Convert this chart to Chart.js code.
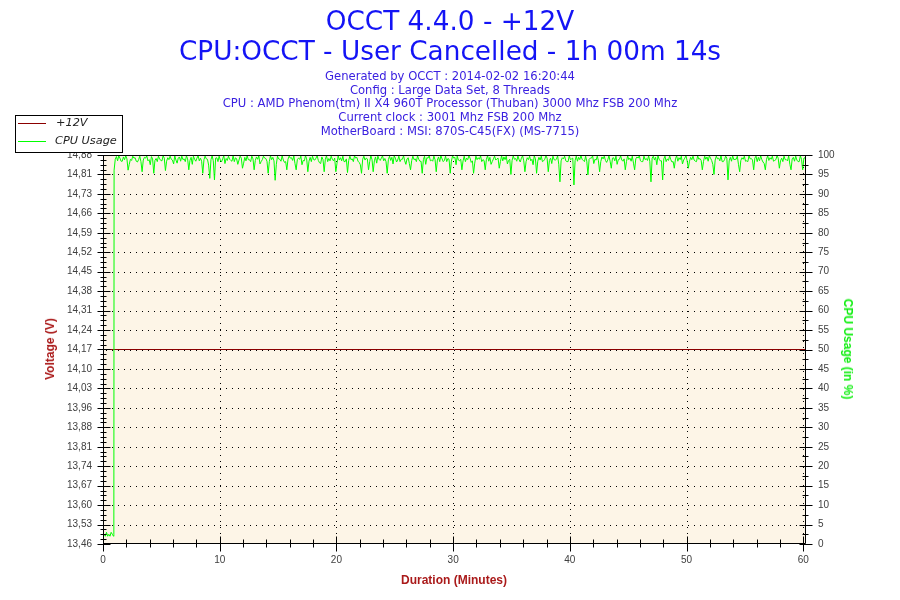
<!DOCTYPE html>
<html><head><meta charset="utf-8">
<script src="https://cdn.jsdelivr.net/npm/chart.js@4.4.1/dist/chart.umd.min.js"></script>
<style>
html,body{margin:0;padding:0;background:#fff;}
#wrap{position:relative;width:900px;height:600px;overflow:hidden;font-family:"DejaVu Sans",Verdana,sans-serif;}
canvas{position:absolute;left:0;top:0;}
.abs{position:absolute;white-space:nowrap;}
</style></head><body>
<div id="wrap">
<canvas id="c" width="900" height="600"></canvas>
<div class="abs" style="left:0;width:900px;top:6px;text-align:center;font-size:26.3px;line-height:30px;color:#1414f5">OCCT 4.4.0 - +12V<br>CPU:OCCT - User Cancelled - 1h 00m 14s</div>
<div class="abs" style="left:0;width:900px;top:69.8px;text-align:center;font-size:11.6px;line-height:13.85px;color:#3a20e0">Generated by OCCT : 2014-02-02 16:20:44<br>Config : Large Data Set, 8 Threads<br>CPU : AMD Phenom(tm) II X4 960T Processor (Thuban) 3000 Mhz FSB 200 Mhz<br>Current clock : 3001 Mhz FSB 200 Mhz<br>MotherBoard : MSI: 870S-C45(FX) (MS-7715)</div>
<div class="abs" style="left:50px;top:349px;transform:translate(-50%,-50%) rotate(-90deg);font-family:'Liberation Sans',Arial,sans-serif;font-weight:bold;font-size:12px;color:#aa1a1a">Voltage (V)</div>
<div class="abs" style="left:848px;top:349px;transform:translate(-50%,-50%) rotate(90deg);font-family:'Liberation Sans',Arial,sans-serif;font-weight:bold;font-size:12px;color:#11ee11">CPU Usage (in %)</div>
<div class="abs" style="left:454px;top:580px;transform:translate(-50%,-50%);font-family:'Liberation Sans',Arial,sans-serif;font-weight:bold;font-size:12px;color:#aa1a1a">Duration (Minutes)</div>
<div class="abs" style="left:15px;top:115px;width:108px;height:38px;box-sizing:border-box;border:1px solid #000;background:#fff;font-style:italic;font-size:11.3px;color:#222">
  <div style="position:absolute;left:2px;top:7px;width:28px;height:1px;background:#8b0000"></div>
  <div style="position:absolute;left:40px;top:0px;line-height:14px">+12V</div>
  <div style="position:absolute;left:2px;top:25px;width:28px;height:1px;background:#00ff00"></div>
  <div style="position:absolute;left:39px;top:18px;line-height:14px">CPU Usage</div>
</div>
</div>
<script>
// ---- data ----
const DURATION = 60.233; // 1h 00m 14s in minutes
const xTicks = [0, 10, 20, 30, 40, 50, 60];
const voltLabels = ['13,46','13,53','13,60','13,67','13,74','13,81','13,88','13,96','14,03','14,10','14,17','14,24','14,31','14,38','14,45','14,52','14,59','14,66','14,73','14,81','14,88'];
const VMIN = 13.46, VMAX = 14.88;
const cpuTicks = [0,5,10,15,20,25,30,35,40,45,50,55,60,65,70,75,80,85,90,95,100];

const voltMinutes = [0, 60.233];
const voltValues = [14.17, 14.17];

const cpuIdleMinutes = [0, 0.02, 0.1, 0.2, 0.3, 0.4, 0.5, 0.6, 0.7, 0.8, 0.9, 0.93];
const cpuIdleValues  = [10, 2, 2.5, 2, 3, 2, 2.5, 2, 3, 2.5, 2, 2.5];
const LOAD_START = 0.95, SAMPLE_STEP = 0.2;
// samples at LOAD_START + i*SAMPLE_STEP
const cpuLoadValues = [
96.1,99.6,99.8,98.4,99.5,99.8,96.1,98.9,99.7,99.3,
98.2,99.7,95.7,99.4,99.8,98.8,99.6,95.3,99.1,99.7,
98.6,99.8,96.0,99.3,99.7,98.7,99.8,97.9,99.5,99.7,
99.0,99.8,96.2,99.4,99.7,98.4,99.8,99.2,95.3,99.7,
98.9,94.0,99.8,93.6,99.3,99.7,98.2,99.8,99.1,99.7,
98.6,99.8,99.3,97.6,99.7,96.6,99.4,99.8,98.8,99.7,
96.2,99.5,99.8,98.3,99.7,99.1,95.3,99.8,99.4,93.5,
99.7,98.9,99.8,98.1,96.2,99.7,99.3,99.8,96.2,99.2,
99.7,98.6,99.8,95.7,99.4,99.7,98.7,99.8,98.0,99.5,
95.7,99.8,99.1,99.7,98.5,95.7,99.8,99.3,99.7,98.3,
95.5,99.7,99.0,99.8,99.4,98.1,95.3,99.7,99.2,96.2,
99.8,95.7,99.5,99.7,98.6,99.8,99.1,95.3,99.7,99.4,
99.8,98.2,99.7,98.9,99.8,97.6,99.3,96.2,99.7,99.0,
99.8,98.4,95.3,99.7,99.3,99.8,98.7,99.7,95.7,99.5,
99.8,98.3,99.7,99.1,95.3,99.8,99.4,99.7,98.5,96.2,
99.7,99.2,99.8,98.1,95.3,99.7,99.3,99.8,98.8,96.2,
99.8,99.4,98.3,99.7,99.0,96.6,99.8,99.5,99.7,98.6,
95.0,99.8,99.1,99.7,98.2,99.8,95.7,99.3,99.7,98.9,
99.8,95.3,99.4,99.7,98.5,99.8,95.7,99.2,99.7,98.7,
99.8,93.1,99.3,99.7,98.3,99.8,99.0,92.3,99.7,99.4,
99.8,98.6,99.7,94.9,99.2,99.8,98.9,99.7,95.7,99.5,
99.7,98.1,99.8,96.6,99.3,99.7,98.8,99.8,98.4,96.2,
99.8,99.2,99.7,96.2,99.5,99.8,98.3,99.7,99.1,99.8,
93.1,99.7,99.4,99.8,98.5,93.6,99.7,99.0,99.8,98.2,
96.6,99.8,99.3,99.7,98.7,99.8,96.6,99.4,99.7,98.4,
99.8,99.1,96.2,99.7,99.5,99.8,98.6,95.0,99.7,99.2,
99.8,98.3,99.7,93.6,99.4,99.8,98.9,99.7,95.7,99.3,
99.7,98.5,99.8,99.1,96.2,99.7,99.4,99.8,98.2,96.2,
99.8,99.3,99.7,98.6,99.8,96.6,99.2,99.7,98.8,99.8,
96.2,99.4,99.7,98.3,99.8,96.2,99.3
];
// samples half a step later (LOAD_START + i*SAMPLE_STEP + SAMPLE_STEP/2)
const cpuLoadMidValues = [
98.9,98.5,99.2,98.4,98.8,99.0,97.6,98.6,99.2,98.4,
98.8,98.3,98.7,99.2,98.5,97.5,99.0,98.6,98.3,99.0,
98.5,99.2,98.4,98.8,98.9,97.7,98.7,99.2,98.4,98.8,
98.3,99.0,98.6,97.6,98.9,99.2,98.5,98.4,98.8,99.0,
97.4,98.8,98.5,99.2,98.3,98.7,99.0,97.8,98.6,98.9,
98.4,98.3,99.0,98.7,99.2,97.9,98.5,98.8,98.3,99.0,
98.6,98.9,97.7,98.8,99.2,98.4,98.3,98.8,98.5,97.6,
99.0,98.4,98.7,98.3,98.9,99.2,98.6,97.8,98.8,98.9,
97.5,98.5,99.0,98.4,98.3,98.8,99.2,98.6,97.8,98.8,
98.9,98.3,98.5,98.9,99.2,97.9,98.7,98.5,98.3,99.0,
98.6,98.8,98.3,99.2,98.4,97.5,98.9,98.7,99.0,98.3,
98.8,98.5,97.9,98.9,99.2,98.5,98.3,98.8,98.6,97.7,
99.2,98.7,98.3,98.9,98.5,99.0,97.8,98.6,98.8,98.3,
98.9,98.4,98.8,97.6,99.2,98.5,98.4,98.8,98.7,98.3,
99.0,98.6,98.3,98.9,98.4,99.2,97.5,98.7,98.9,98.5,
98.3,98.8,99.2,98.5,97.9,98.8,98.9,98.3,98.6,98.9,
98.4,97.6,99.0,98.7,99.2,98.3,98.5,98.8,97.7,98.9,
98.6,98.9,98.4,98.8,99.2,98.5,98.3,98.8,98.5,97.5,
99.0,98.4,98.7,98.3,98.9,99.2,98.6,97.8,98.8,98.9,
97.6,98.5,99.0,98.5,98.3,98.8,99.2,98.6,98.4,98.8,
98.9,98.3,98.4,98.9,99.2,97.8,98.7,98.5,98.3,99.0,
98.6,98.8,98.4,99.2,98.5,97.6,98.9,98.7,99.0,98.3,
98.8,98.4,97.9,99.0,99.2,98.5,98.3,98.8,98.6,98.4,
99.2,98.7,97.5,98.9,98.5,99.0,98.3,98.6,98.8,98.3,
99.0,98.4,98.8,97.7,99.2,98.5,98.4,98.8,98.7,98.3,
98.9,98.6,98.3,98.9,98.4,99.2,97.6,98.7,99.0,98.5,
98.3,98.8,99.2,98.5,98.4,98.8,98.9,97.5,98.6,98.9,
98.4,98.3,99.0,98.7,99.2,98.3,98.5,98.8,97.8,98.9,
98.6,98.9,98.4,98.8,99.2,98.5,98.3,98.8,98.5,97.6,
99.0,98.4,98.7,98.3,98.9,99.2,98.6
];

// ---- build datasets from arrays ----
const cpuPoints = cpuIdleMinutes.map((m, i) => ({x: m, y: cpuIdleValues[i]}));
cpuLoadValues.forEach((v, i) => {
  const t = LOAD_START + i * SAMPLE_STEP;
  cpuPoints.push({x: t, y: v});
  cpuPoints.push({x: t + SAMPLE_STEP / 2, y: cpuLoadMidValues[i]});
});
const voltPoints = voltMinutes.map((m, i) => ({x: m, y: voltValues[i]}));

const TICK_FONT = {family: "'Liberation Sans', Arial, sans-serif", size: 10};
const TICK_COLOR = '#404040';

const frame = {
  id: 'frame',
  beforeDraw(chart) {
    const {ctx, chartArea: a} = chart;
    ctx.save();
    ctx.fillStyle = '#fdf5e7';
    ctx.fillRect(a.left, a.top, a.right - a.left, a.bottom - a.top);
    ctx.restore();
  },
  beforeDatasetsDraw(chart) {
    const {ctx, chartArea: a, scales} = chart;
    ctx.save();
    ctx.strokeStyle = '#000';
    ctx.lineWidth = 1;
    ctx.setLineDash([1, 5]);
    ctx.beginPath();
    xTicks.forEach(v => {
      if (v === 0) return;
      const x = Math.round(scales.x.getPixelForValue(v)) + 0.5;
      ctx.moveTo(x, a.top); ctx.lineTo(x, a.bottom);
    });
    cpuTicks.forEach(v => {
      if (v === 0 || v === 100) return;
      const y = Math.round(scales.y1.getPixelForValue(v)) + 0.5;
      ctx.moveTo(a.left + 3, y); ctx.lineTo(a.right, y);
    });
    ctx.stroke();
    ctx.restore();
  },
  afterDatasetsDraw(chart) {
    const {ctx, chartArea: a, scales} = chart;
    const L = Math.round(a.left) + 0.5, R = Math.round(a.right) - 0.5;
    const T = Math.round(a.top) + 0.5, B = Math.round(a.bottom) - 0.5;
    ctx.save();
    ctx.strokeStyle = '#000';
    ctx.lineWidth = 1;
    ctx.beginPath();
    ctx.moveTo(L, T); ctx.lineTo(R, T); ctx.lineTo(R, B); ctx.lineTo(L, B); ctx.closePath();
    // left axis ticks
    const n = voltLabels.length;
    for (let i = 0; i < n; i++) {
      const v = VMIN + i * (VMAX - VMIN) / (n - 1);
      const y = Math.round(scales.y.getPixelForValue(v)) + 0.5;
      ctx.moveTo(L - 6, y); ctx.lineTo(L + 7, y);
      if (i < n - 1) {
        for (let k = 1; k < 4; k++) {
          const ym = Math.round(scales.y.getPixelForValue(v + k * (VMAX - VMIN) / (n - 1) / 4)) + 0.5;
          ctx.moveTo(L - 3, ym); ctx.lineTo(L + 3, ym);
        }
      }
    }
    // right axis ticks
    cpuTicks.forEach((v, i) => {
      const y = Math.round(scales.y1.getPixelForValue(v)) + 0.5;
      ctx.moveTo(R - 6, y); ctx.lineTo(R + 7, y);
      if (i < cpuTicks.length - 1) {
        const ym = Math.round(scales.y1.getPixelForValue((v + cpuTicks[i + 1]) / 2)) + 0.5;
        ctx.moveTo(R - 3, ym); ctx.lineTo(R + 3, ym);
      }
    });
    // bottom axis ticks
    xTicks.forEach((v, i) => {
      const x = Math.round(scales.x.getPixelForValue(v)) + 0.5;
      ctx.moveTo(x, B - 7); ctx.lineTo(x, B + 8);
      if (i < xTicks.length - 1) {
        const step = (xTicks[i + 1] - v) / 5;
        for (let k = 1; k < 5; k++) {
          const xm = Math.round(scales.x.getPixelForValue(v + k * step)) + 0.5;
          ctx.moveTo(xm, B - 4); ctx.lineTo(xm, B + 4);
        }
      }
    });
    ctx.stroke();
    ctx.restore();
  }
};

new Chart(document.getElementById('c'), {
  type: 'line',
  data: {
    datasets: [
      {label: 'CPU Usage', data: cpuPoints, yAxisID: 'y1', borderColor: '#00ff00', borderWidth: 1, pointRadius: 0, tension: 0, fill: false},
      {label: '+12V', data: voltPoints, yAxisID: 'y', borderColor: '#8b0000', borderWidth: 1, pointRadius: 0, tension: 0, fill: false}
    ]
  },
  options: {
    responsive: false,
    animation: false,
    events: [],
    layout: {padding: {top: 155, left: 0, right: 0, bottom: 0}},
    plugins: {legend: {display: false}, title: {display: false}, tooltip: {enabled: false}},
    scales: {
      x: {
        type: 'linear', position: 'bottom', min: 0, max: DURATION,
        afterBuildTicks: s => { s.ticks = xTicks.map(v => ({value: v})); },
        afterFit: s => { s.height = 56; },
        grid: {display: false, drawTicks: false}, border: {display: false},
        ticks: {font: TICK_FONT, color: TICK_COLOR, padding: 10, maxRotation: 0, autoSkip: false}
      },
      y: {
        type: 'linear', position: 'left', min: VMIN, max: VMAX,
        afterBuildTicks: s => { s.ticks = voltLabels.map((_, i) => ({value: VMIN + i * (VMAX - VMIN) / (voltLabels.length - 1)})); },
        afterFit: s => { s.width = 103; },
        grid: {display: false, drawTicks: false}, border: {display: false},
        ticks: {font: TICK_FONT, color: TICK_COLOR, padding: 11, autoSkip: false, callback: (v, i) => voltLabels[i]}
      },
      y1: {
        type: 'linear', position: 'right', min: 0, max: 100,
        afterBuildTicks: s => { s.ticks = cpuTicks.map(v => ({value: v})); },
        afterFit: s => { s.width = 94; },
        grid: {display: false, drawTicks: false}, border: {display: false},
        ticks: {font: TICK_FONT, color: TICK_COLOR, padding: 12, autoSkip: false, callback: v => String(v)}
      }
    }
  },
  plugins: [frame]
});
</script>
</body></html>
